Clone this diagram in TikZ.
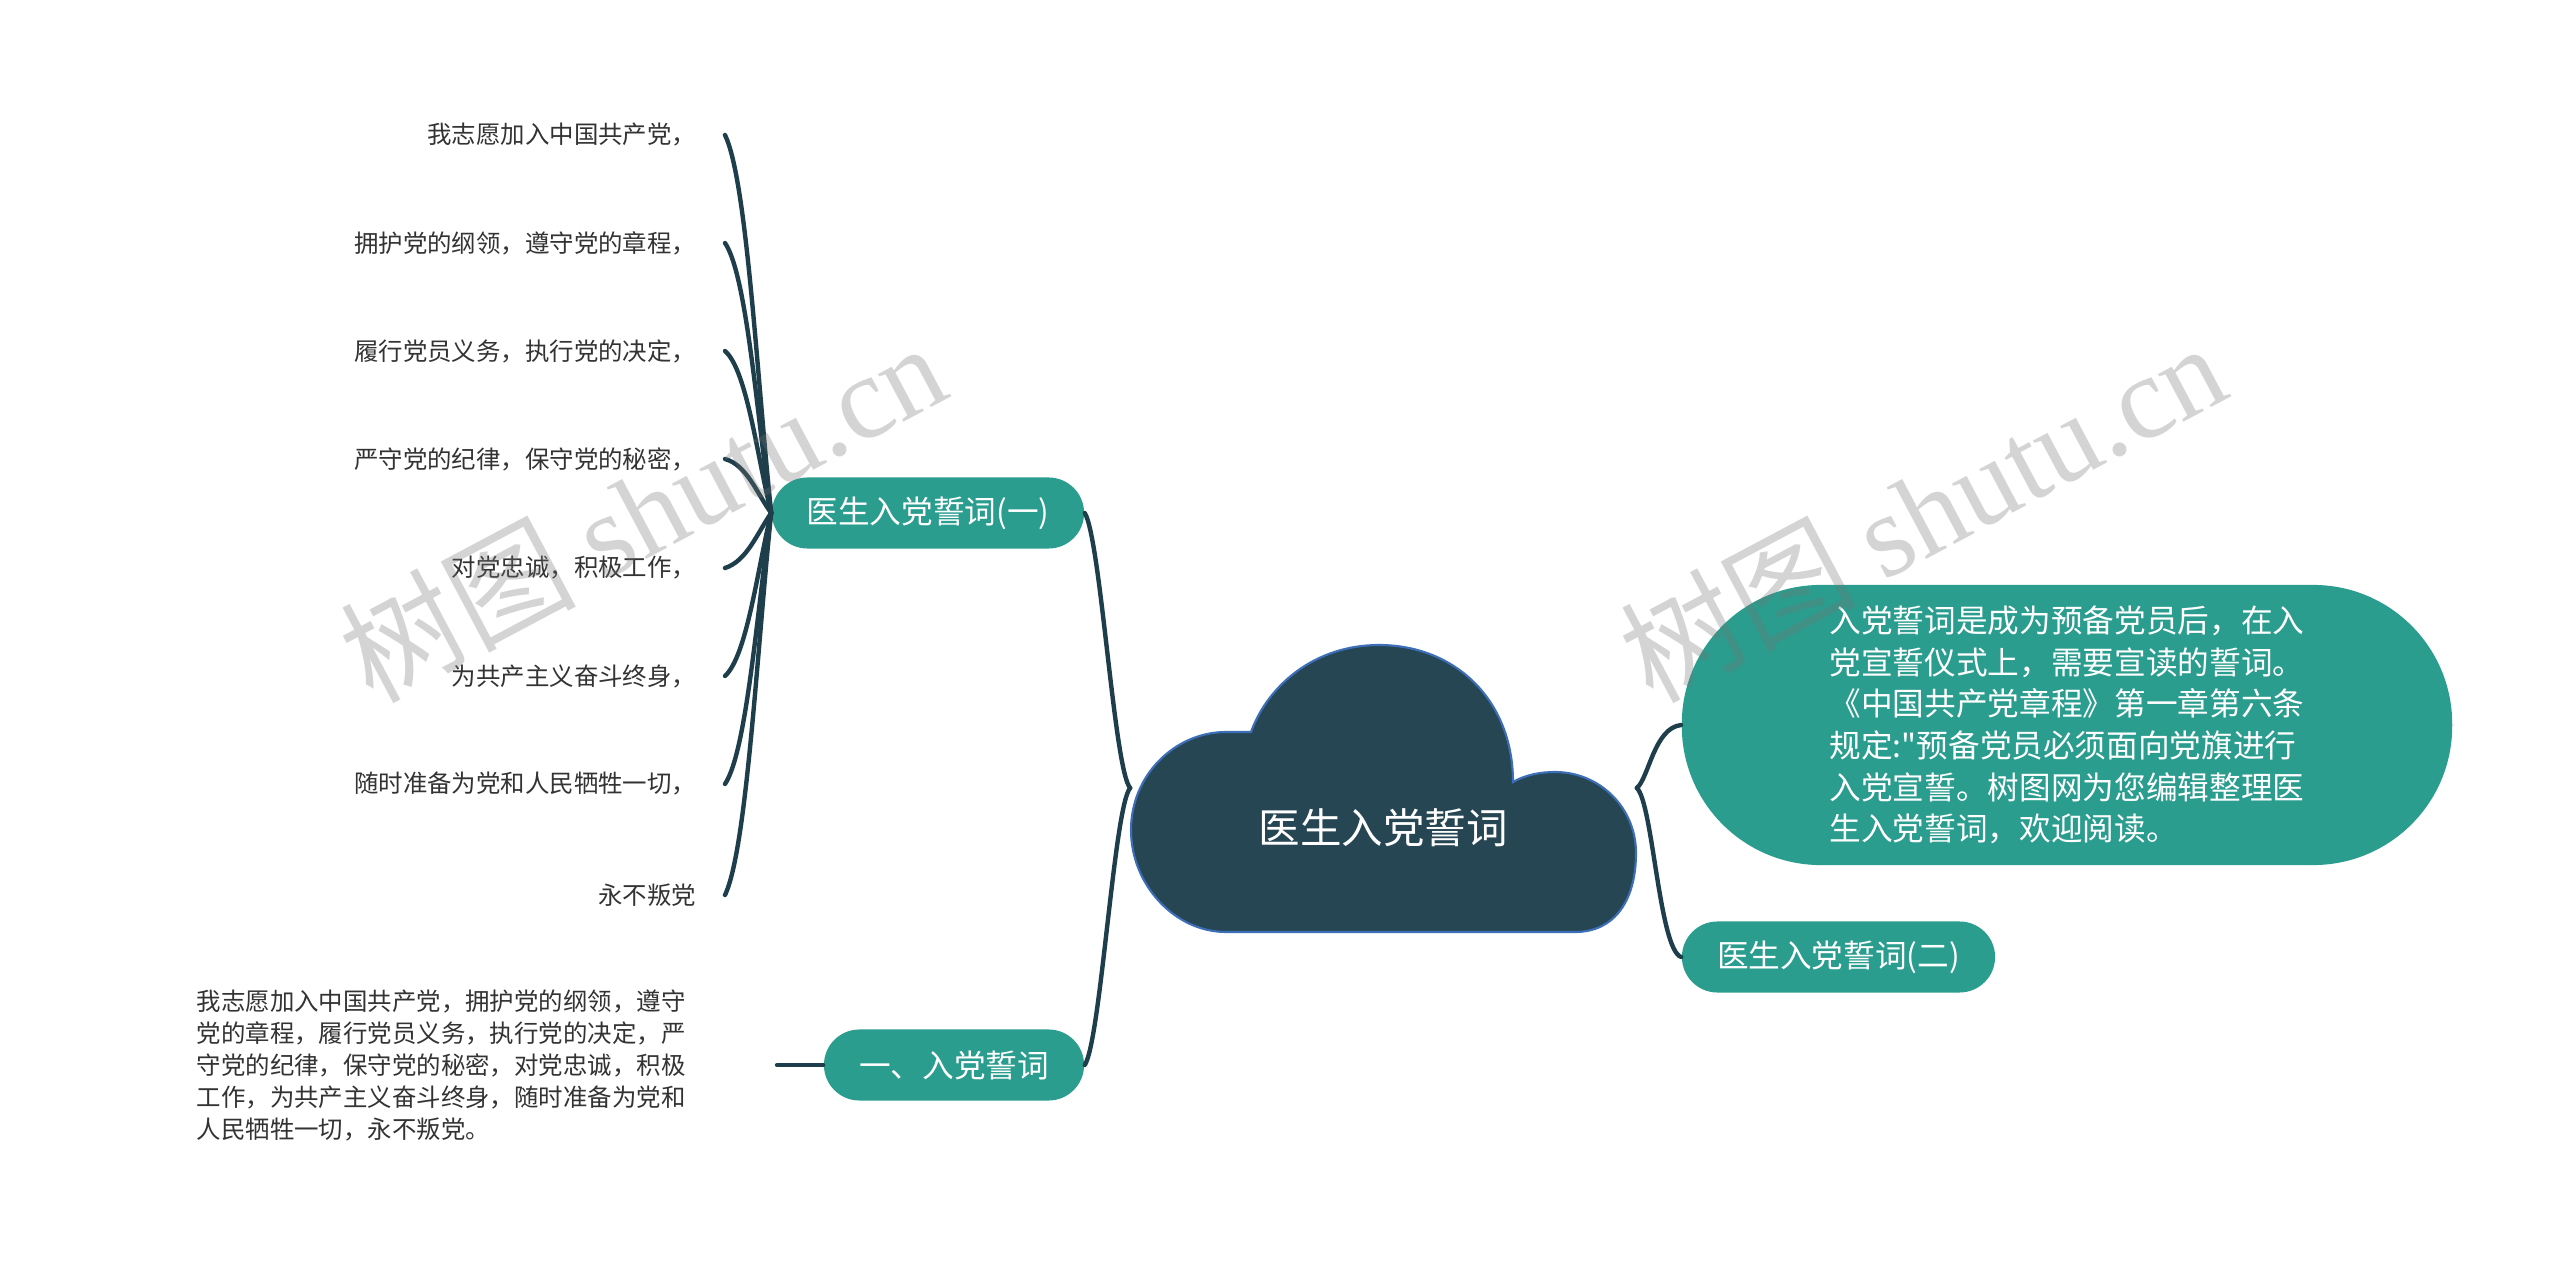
\documentclass[tikz,border=0pt]{standalone}
\usepackage{fontspec}
\setmainfont{Noto Sans CJK SC}
\newfontfamily\cjkplain{Noto Sans CJK SC}
\newfontfamily\wmlatin{Liberation Serif}
\usetikzlibrary{calc}
\definecolor{cloudfill}{HTML}{264653}
\definecolor{cloudedge}{HTML}{3D6FB8}
\definecolor{nodeteal}{HTML}{2A9D8F}
\definecolor{linec}{HTML}{1F3E4C}
\definecolor{leaftext}{HTML}{333333}
\begin{document}
\begin{tikzpicture}[x=0.01cm,y=-0.01cm,
  conn/.style={draw=linec, line width=1.25pt, line cap=round},
  pill/.style={fill=nodeteal, text=white, rounded corners=0.355cm, minimum height=0.71cm, inner sep=0pt, font=\fontsize{9}{11}\selectfont},
  leaf/.style={anchor=east, inner sep=0pt, text=leaftext, font=\fontsize{6.95}{8.5}\selectfont},
  wm/.style={anchor=base west, rotate=28, text=black!55, opacity=0.3, inner sep=0pt, font=\fontsize{33.5}{34}\selectfont}
]
\useasboundingbox[fill=white] (0,0) rectangle (2560,1261);

% cloud shape
\filldraw[fill=cloudfill, draw=cloudedge, line width=0.6pt]
  (1251,732) .. controls (1268,685) and (1315,645) .. (1379,645)
  .. controls (1455,645) and (1513,700) .. (1513,782)
  .. controls (1525,775) and (1540,772) .. (1555,772)
  .. controls (1600,772) and (1636,808) .. (1636,853)
  .. controls (1636,900) and (1615,932) .. (1575,932)
  -- (1226,932)
  .. controls (1175,932) and (1131,885) .. (1131,830)
  .. controls (1131,775) and (1175,732) .. (1226,732)
  -- cycle;
\node[minimum width=5.05cm, minimum height=2.92cm, inner sep=0pt] (cloud) at (1383.5,788) {};
\node[text=white, inner sep=0pt, font=\fontsize{11.8}{14}\selectfont] (ctext) at (1383,828) {医生入党誓词};

% main topics
\node[pill, minimum width=3.12cm] (t1) at (928,513) {医生入党誓词(一)};
\node[pill, minimum width=2.60cm] (t2) at (954,1065) {一、入党誓词};
\node[pill, minimum width=3.13cm] (t3) at (1838.5,957) {医生入党誓词(二)};
\node[fill=nodeteal, text=white, rounded corners=1.39cm, minimum width=7.7cm, minimum height=2.8cm, align=left, inner sep=0pt, font=\cjkplain\fontsize{9}{11.85}\selectfont] (big) at (2067,725)
  {入党誓词是成为预备党员后，在入\\党宣誓仪式上，需要宣读的誓词。\\《中国共产党章程》第一章第六条\\规定:"预备党员必须面向党旗进行\\入党宣誓。树图网为您编辑整理医\\生入党誓词，欢迎阅读。};

% leaves
\node[leaf] (l1) at (697,135) {我志愿加入中国共产党，};
\node[leaf] (l2) at (697,243) {拥护党的纲领，遵守党的章程，};
\node[leaf] (l3) at (697,351) {履行党员义务，执行党的决定，};
\node[leaf] (l4) at (697,459) {严守党的纪律，保守党的秘密，};
\node[leaf] (l5) at (697,568) {对党忠诚，积极工作，};
\node[leaf] (l6) at (697,676) {为共产主义奋斗终身，};
\node[leaf] (l7) at (697,784) {随时准备为党和人民牺牲一切，};
\node[leaf] (l8) at (697,895) {永不叛党};

\node[anchor=west, inner sep=0pt, align=left, text=leaftext, font=\fontsize{6.95}{9.1}\selectfont] (para) at (196,1065)
  {我志愿加入中国共产党，拥护党的纲领，遵守\\党的章程，履行党员义务，执行党的决定，严\\守党的纪律，保守党的秘密，对党忠诚，积极\\工作，为共产主义奋斗终身，随时准备为党和\\人民牺牲一切，永不叛党。};
\coordinate (pe) at (777,1065);

% connectors
\draw[conn] (cloud.west) .. controls +(-16,-18) and +(16,27) .. (t1.east);
\draw[conn] (cloud.west) .. controls +(-16,18) and +(16,-25) .. (t2.east);
\draw[conn] (cloud.east) .. controls +(12,-10) and +(-27,3) .. (big.west);
\draw[conn] (cloud.east) .. controls +(16,15) and +(-22,-7) .. (t3.west);

\draw[conn] (t1.west) .. controls +(-14,-132) and +(22,45) .. ($(l1.east)+(28,0)$);
\draw[conn] (t1.west) .. controls +(-14,-94) and +(22,32) .. ($(l2.east)+(28,0)$);
\draw[conn] (t1.west) .. controls +(-14,-56) and +(22,19) .. ($(l3.east)+(28,0)$);
\draw[conn] (t1.west) .. controls +(-14,-19) and +(22,6) .. ($(l4.east)+(28,0)$);
\draw[conn] (t1.west) .. controls +(-14,20) and +(22,-7) .. ($(l5.east)+(28,0)$);
\draw[conn] (t1.west) .. controls +(-14,57) and +(22,-20) .. ($(l6.east)+(28,0)$);
\draw[conn] (t1.west) .. controls +(-14,95) and +(22,-33) .. ($(l7.east)+(28,0)$);
\draw[conn] (t1.west) .. controls +(-14,133) and +(22,-46) .. ($(l8.east)+(28,0)$);

\draw[conn] (t2.west) -- (pe);

% watermarks
\node[wm] (w1) at (372,705) {树图 {\wmlatin shutu.cn}};
\node[wm] (w2) at (1652,705) {树图 {\wmlatin shutu.cn}};
\end{tikzpicture}
\end{document}
